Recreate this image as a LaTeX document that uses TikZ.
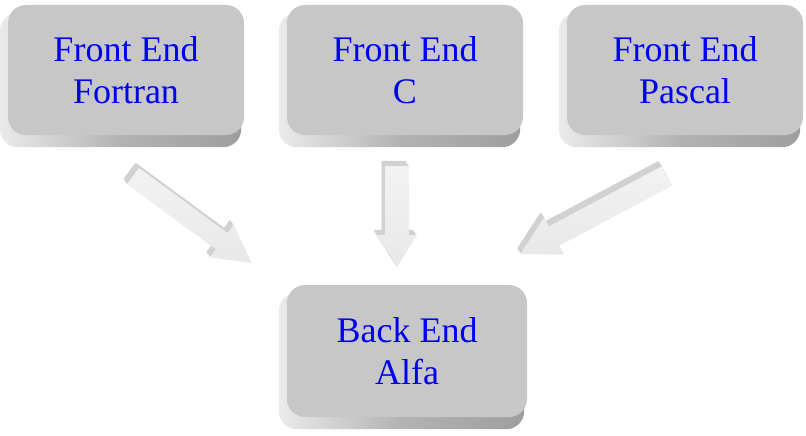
\documentclass[tikz,border=0pt]{standalone}
\usepackage{fontspec}
\setmainfont{Liberation Serif}
\usetikzlibrary{backgrounds}
\definecolor{txtblue}{RGB}{0,0,240}
\tikzset{
  x=1pt, y=-1pt,
  face/.style={fill=black!22, rounded corners=18pt, minimum width=236pt,
    minimum height=130pt, inner sep=0pt, align=center, text=txtblue,
    font=\fontsize{36}{42}\selectfont},
  slab/.style={rounded corners=18pt, left color=black!8, right color=black!38,
    middle color=black!30},
  arrowface/.style={top color=black!5, bottom color=black!9},
  arrowside/.style={fill=black!18},
}
% local block arrow: length #1, shaft half-width #2, head half-width #3, head length #4
\newcommand{\arrowpoly}[5]{%
  \path[#5] (0,-#2) -- ({#1-#4},-#2) -- ({#1-#4},-#3) -- (#1,0) -- ({#1-#4},#3)
    -- ({#1-#4},#2) -- (0,#2) -- cycle;}
% \blockarrow{tx}{ty}{angle}{length}{shaft}{head}{headlen}
\newcommand{\blockarrow}[7]{%
  \foreach \s in {7,6,...,1}{%
    \begin{scope}[shift={(-0.5*\s,-0.75*\s)}]
      \begin{scope}[shift={(#1,#2)}, rotate=#3]
        \arrowpoly{#4}{#5}{#6}{#7}{arrowside}
      \end{scope}
    \end{scope}}%
  \begin{scope}[shift={(#1,#2)}, rotate=#3]
    \arrowpoly{#4}{#5}{#6}{#7}{arrowface}
  \end{scope}}
\begin{document}
\begin{tikzpicture}
\useasboundingbox (0,0) rectangle (806,436);
\node[face] (fort) at (126,70) {Front End\\Fortran};
\node[face] (cc) at (405,70) {Front End\\C};
\node[face] (pas) at (685,70) {Front End\\Pascal};
\node[face, minimum width=240pt, minimum height=132pt] (back) at (407,351) {Back End\\Alfa};
\begin{pgfonlayer}{background}
  \foreach \n in {fort,cc,pas,back}{
    \path[slab] ([shift={(-8pt,-8pt)}]\n.north west) rectangle ([shift={(-3pt,-12pt)}]\n.south east);
  }
\end{pgfonlayer}
\blockarrow{133}{176}{-36.3}{147}{10}{20}{37}
\blockarrow{397}{166}{-90}{101}{12}{20}{32}
\blockarrow{667}{176}{-152}{166}{11}{21}{38}
\end{tikzpicture}
\end{document}
